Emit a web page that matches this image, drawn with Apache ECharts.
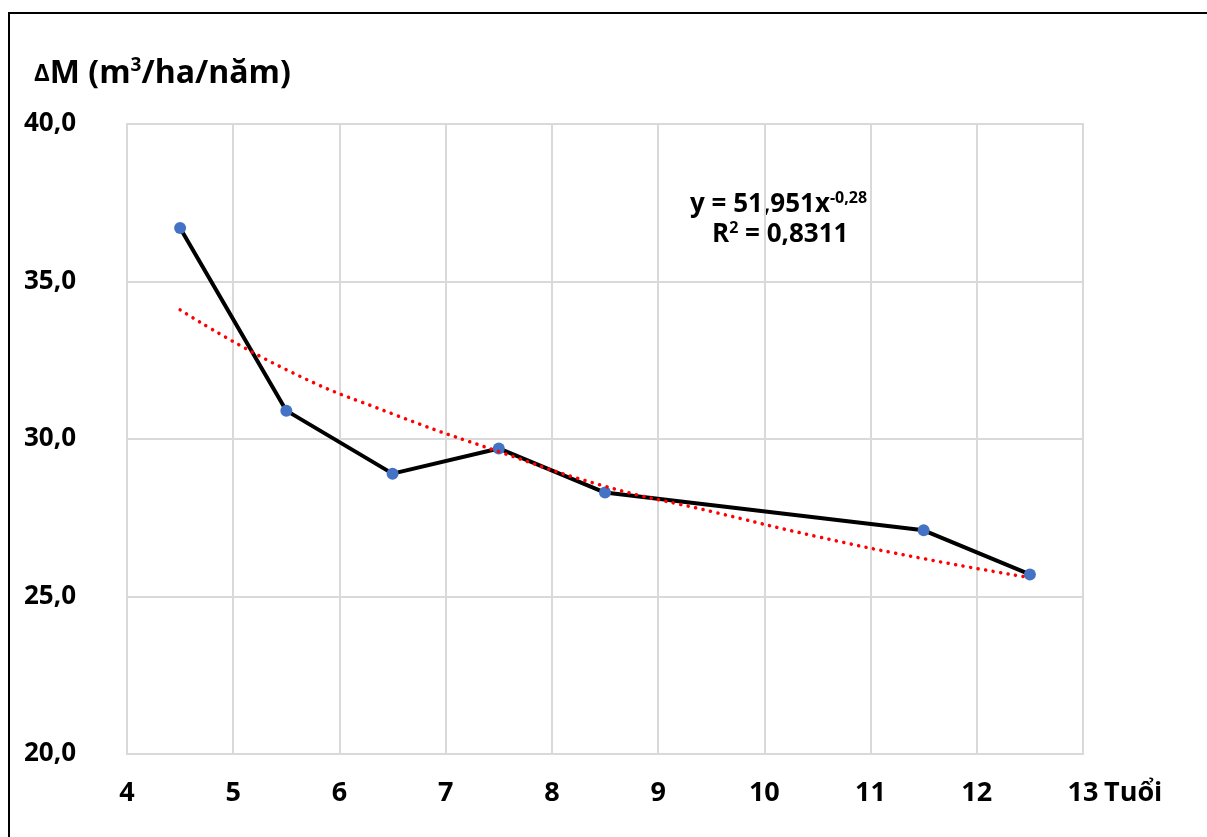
<!DOCTYPE html>
<html>
<head>
<meta charset="utf-8">
<script src="https://cdn.jsdelivr.net/npm/echarts@6/dist/echarts.min.js"></script>
<style>
  html, body { margin: 0; padding: 0; background: #fff; }
  #chart { width: 1207px; height: 837px; }
</style>
</head>
<body>
<div id="chart"></div>
<script>
  // tuổi và lượng tăng trưởng ΔM
  var tuoi = [4.5, 5.5, 6.5, 7.5, 8.5, 11.5, 12.5];
  var deltaM = [36.7, 30.9, 28.9, 29.7, 28.3, 27.1, 25.7];

  // đường xu hướng
  var tuoiTrend = [4.5, 5.5, 6.5, 7.5, 8.5, 9.5, 10.5, 11.5, 12.5];
  var giaTriTrend = [34.1, 32.2, 30.8, 29.6, 28.5, 27.7, 26.9, 26.2, 25.6];

  var font = '"Open Sans", "Noto Sans", sans-serif';

  var myChart = echarts.init(document.getElementById('chart'));

  var option = {
    animation: false,
    backgroundColor: '#fff',
    grid: { left: 127, top: 124, width: 956, height: 630, show: true, borderColor: '#d9d9d9', borderWidth: 2 },
    xAxis: {
      type: 'value',
      min: 4, max: 13, interval: 1,
      axisLine: { show: true, lineStyle: { color: '#d9d9d9', width: 2 } },
      axisTick: { show: false },
      splitLine: { lineStyle: { color: '#d9d9d9', width: 2 } },
      axisLabel: { color: '#000', fontFamily: font, fontWeight: 'bold', fontSize: 27, margin: 26 }
    },
    yAxis: {
      type: 'value',
      min: 20, max: 40, interval: 5,
      axisLine: { show: true, lineStyle: { color: '#d9d9d9', width: 2 } },
      axisTick: { show: false },
      splitLine: { lineStyle: { color: '#d9d9d9', width: 2 } },
      axisLabel: {
        color: '#000', fontFamily: font, fontWeight: 'bold', fontSize: 26, margin: 51,
        formatter: function (v) { return v.toFixed(1).replace('.', ','); }
      }
    },
    graphic: [
      // khung ngoài
      { type: 'line', shape: { x1: 8, y1: 13, x2: 1207, y2: 13 }, style: { stroke: '#000', lineWidth: 2 } },
      { type: 'line', shape: { x1: 9, y1: 12, x2: 9, y2: 837 }, style: { stroke: '#000', lineWidth: 2 } },
      {
        type: 'text', x: 34, y: 74,
        style: {
          text: '{d|Δ}{a|M (m}{s|3}{a|/ha/năm)}',
          verticalAlign: 'middle',
          rich: {
            d: { fontFamily: font, fontWeight: 'bold', fontSize: 24, fill: '#000' },
            a: { fontFamily: font, fontWeight: 'bold', fontSize: 32, fill: '#000' },
            s: { fontFamily: font, fontWeight: 'bold', fontSize: 19, fill: '#000', padding: [0, 0, 16, 0] }
          }
        }
      },
      {
        type: 'text', x: 1104, y: 793,
        style: { text: 'Tuổi', verticalAlign: 'middle', fontFamily: font, fontWeight: 'bold', fontSize: 27, fill: '#000' }
      },
      {
        type: 'text', x: 690, y: 205,
        style: {
          text: '{a|y = 51,951x}{s|-0,28}',
          verticalAlign: 'middle',
          rich: {
            a: { fontFamily: font, fontWeight: 'bold', fontSize: 26, fill: '#000' },
            s: { fontFamily: font, fontWeight: 'bold', fontSize: 16, fill: '#000', padding: [0, 0, 14, 0] }
          }
        }
      },
      {
        type: 'text', x: 712, y: 235,
        style: {
          text: '{a|R}{s|2}{a| = 0,8311}',
          verticalAlign: 'middle',
          rich: {
            a: { fontFamily: font, fontWeight: 'bold', fontSize: 26, fill: '#000' },
            s: { fontFamily: font, fontWeight: 'bold', fontSize: 16, fill: '#000', padding: [0, 0, 14, 0] }
          }
        }
      }
    ],
    series: [
      {
        name: 'Xu hướng',
        type: 'line',
        smooth: true,
        symbol: 'none',
        data: tuoiTrend.map(function (x, i) { return [x, giaTriTrend[i]]; }),
        lineStyle: { color: '#ff0000', width: 3.5, type: [0.1, 7.5], cap: 'round' },
        z: 3
      },
      {
        name: 'ΔM',
        type: 'line',
        data: tuoi.map(function (x, i) { return [x, deltaM[i]]; }),
        symbol: 'circle',
        symbolSize: 12,
        itemStyle: { color: '#4472c4' },
        lineStyle: { color: '#000', width: 4 },
        z: 2
      }
    ]
  };

  myChart.setOption(option);
</script>
</body>
</html>
